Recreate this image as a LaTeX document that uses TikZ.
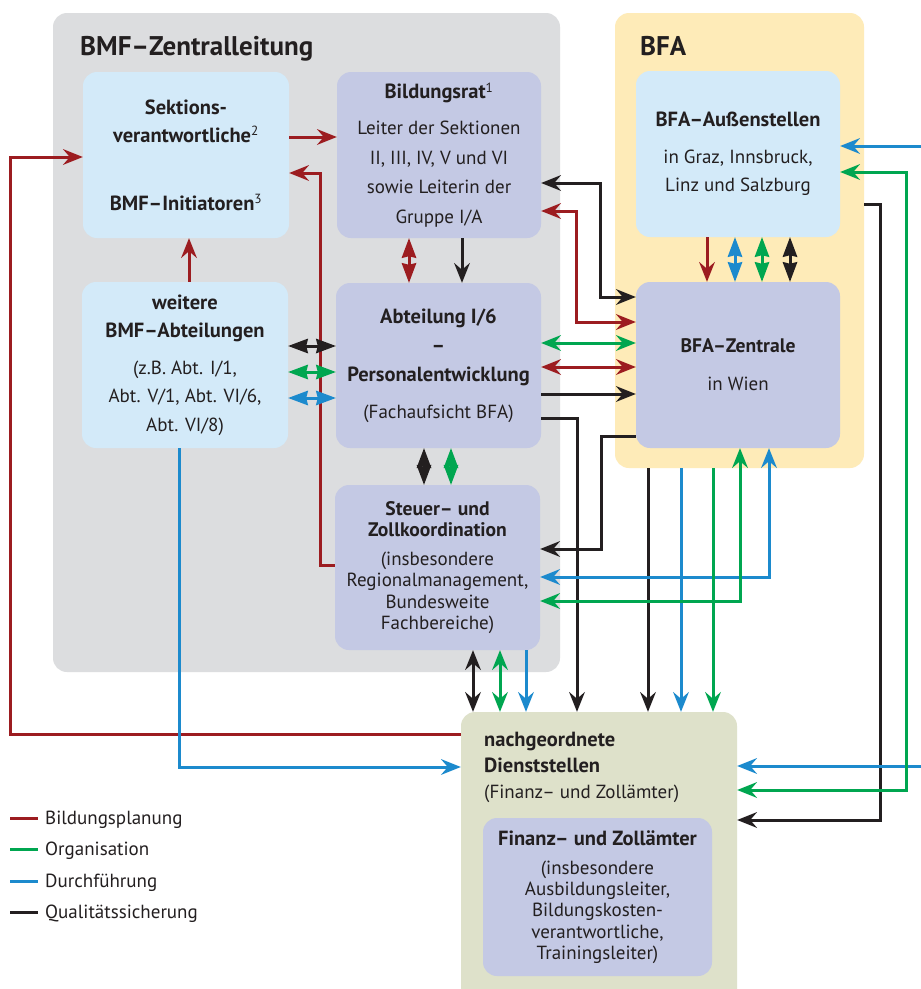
\documentclass[tikz,border=0pt]{standalone}
\usepackage{fontspec}
\setmainfont{PT Sans}
\usetikzlibrary{arrows.meta}
\definecolor{cRed}{HTML}{9C1C20}
\definecolor{cGreen}{HTML}{00A650}
\definecolor{cBlue}{HTML}{1C8ACD}
\definecolor{cBlack}{HTML}{231F20}
\definecolor{cText}{HTML}{231F20}
\definecolor{cGray}{HTML}{DCDDDF}
\definecolor{cYellow}{HTML}{FEEBB8}
\definecolor{cLBlue}{HTML}{D3EAF9}
\definecolor{cLav}{HTML}{C4C9E4}
\definecolor{cOlive}{HTML}{DEE1CA}
\newcommand{\bt}[2][20.5]{{\fontsize{#1}{29}\selectfont\bfseries #2}}
\newcommand{\supr}[1]{\textsuperscript{\mdseries #1}}
\begin{document}
\begin{tikzpicture}[x=1pt,y=-1pt,
  every node/.style={text=cText},
  panel/.style={rounded corners=14pt, inner sep=0pt},
  box/.style={rounded corners=14pt, inner sep=0pt, align=center},
  ttl/.style={font=\fontsize{27}{30}\selectfont\bfseries, inner sep=0pt, anchor=base west},
  ln/.style={line width=3pt, line join=miter},
  rl/.style={ln, draw=cRed},
  gl/.style={ln, draw=cGreen},
  bl/.style={ln, draw=cBlue},
  kl/.style={ln, draw=cBlack},
  >={Stealth[length=20pt,width=16pt,inset=7pt,line width=0pt]},
  dbl/.style={arrows={Stealth[length=20pt,width=15pt,inset=2pt,line width=0pt]-Stealth[length=20pt,width=15pt,inset=2pt,line width=0pt]}},
  lgt/.style={font=\fontsize{19}{22}\selectfont, inner sep=0pt, anchor=base west}
  ]
\useasboundingbox (0,0) rectangle (921,989);
\fill[white] (0,0) rectangle (921,989);

% panels
\node[panel, fill=cGray, minimum width=507pt, minimum height=659pt] (bmf) at (306.5,342.5) {};
\node[panel, fill=cYellow, minimum width=249pt, minimum height=455pt] (bfa) at (739.5,240.5) {};
\node[ttl] (bmfT) at (80,55) {BMF–Zentralleitung};
\node[ttl] (bfaT) at (640,55) {BFA};

% boxes
\node[box, fill=cLBlue, minimum width=206pt, minimum height=166pt,
  font=\fontsize{19}{28}\selectfont] (sek) at (186,155)
  {\bt{Sektions-}\\\bt{verantwortliche}\supr{2}\\[40pt]\bt{BMF–Initiatoren}\supr{3}};
\node[box, fill=cLav, minimum width=204pt, minimum height=166pt,
  font=\fontsize{19}{29.5}\selectfont] (bild) at (439,155)
  {\bt{Bildungsrat}\textsuperscript{1}\\[7pt]Leiter der Sektionen\\II, III, IV, V und VI\\sowie Leiterin der\\Gruppe I/A};
\node[box, fill=cLBlue, minimum width=206pt, minimum height=166pt,
  font=\fontsize{19}{28.5}\selectfont] (weit) at (185,365)
  {\bt{weitere}\\\bt{BMF–Abteilungen}\\[8pt](z.B. Abt. I/1,\\Abt. V/1, Abt. VI/6,\\Abt. VI/8)};
\node[box, fill=cLav, minimum width=205pt, minimum height=165pt,
  font=\fontsize{19}{29}\selectfont] (abt) at (438.5,365.5)
  {\bt{Abteilung I/6}\\\bt{–}\\\bt{Personalentwicklung}\\[8pt](Fachaufsicht BFA)};
\node[box, fill=cLav, minimum width=205pt, minimum height=165pt,
  font=\fontsize{19}{21.5}\selectfont] (steu) at (437.5,567.5)
  {\bt[19.6]{Steuer– und}\\\bt[19.6]{Zollkoordination}\\[7pt](insbesondere\\Regionalmanagement,\\Bundesweite\\Fachbereiche)};
\node[box, fill=cLBlue, minimum width=204pt, minimum height=166pt,
  font=\fontsize{19}{28}\selectfont] (auss) at (738,154)
  {\bt{BFA–Außenstellen}\\[9pt]in Graz, Innsbruck,\\Linz und Salzburg};
\node[box, fill=cLav, minimum width=204pt, minimum height=166pt,
  font=\fontsize{19}{28}\selectfont] (zent) at (738,365)
  {\bt[19.6]{BFA–Zentrale}\\[10pt]in Wien};
\node[panel, fill=cOlive, minimum width=276pt, minimum height=293pt] (nach) at (599,858.5) {};
\node[inner sep=0pt, anchor=base west, align=left,
  font=\fontsize{19}{26}\selectfont] (nachT) at (484,798)
  {\bt{nachgeordnete}\\\bt{Dienststellen}\\(Finanz– und Zollämter)};
\node[box, fill=cLav, minimum width=229pt, minimum height=158pt,
  font=\fontsize{19}{21.3}\selectfont] (fin) at (597.5,897)
  {\bt{Finanz– und Zollämter}\\[8pt](insbesondere\\Ausbildungsleiter,\\Bildungskosten-\\verantwortliche,\\Trainingsleiter)};

% free ends at the right edge
\coordinate (eB1) at (921,146);
\coordinate (eB2) at (921,766);

% ---------- red: Bildungsplanung
\draw[rl,->] (sek.east |- 0,137) -- (bild.west |- 0,137);
\draw[rl,->] (nach.west |- 0,734) -| (10,157) -- (sek.west |- 0,157);
\draw[rl,->] (steu.west |- 0,565) -| (320,173) -- (sek.east |- 0,173);
\draw[rl,->] (weit.north -| 189,0) -- (sek.south -| 189,0);
\draw[rl,dbl] (bild.south -| 409,0) -- (abt.north -| 409,0);
\draw[rl,<->] (bild.east |- 0,211) -| (576,322) -- (zent.west |- 0,322);
\draw[rl,<->] (abt.east |- 0,367) -- (zent.west |- 0,367);
\draw[rl,->] (auss.south -| 707,0) -- (zent.north -| 707,0);

% ---------- black: Qualitaetssicherung
\draw[kl,->] (bild.south -| 462,0) -- (abt.north -| 462,0);
\draw[kl,<->] (bild.east |- 0,183) -| (600,297) -- (zent.west |- 0,297);
\draw[kl,dbl] (weit.east |- 0,346) -- (abt.west |- 0,346);
\draw[kl,->] (abt.east |- 0,394) -- (zent.west |- 0,394);
\draw[kl,->] (abt.east |- 0,418) -| (nach.north -| 577,0);
\draw[kl,->] (zent.west |- 0,436) -| (601,549) -- (steu.east |- 0,549);
\draw[kl,dbl] (abt.south -| 424,0) -- (steu.north -| 424,0);
\draw[kl,<->] (steu.south -| 473,0) -- (nach.north -| 473,0);
\draw[kl,->] (bfa.south -| 648,0) -- (nach.north -| 648,0);
\draw[kl,dbl] (auss.south -| 790,0) -- (zent.north -| 790,0);
\draw[kl,->] (bfa.east |- 0,204) -| (880,820) -- (nach.east |- 0,820);

% ---------- blue: Durchfuehrung
\draw[bl,dbl] (weit.east |- 0,398) -- (abt.west |- 0,398);
\draw[bl,->] (weit.south -| 179,0) |- (nach.west |- 0,767);
\draw[bl,dbl] (auss.south -| 735,0) -- (zent.north -| 735,0);
\draw[bl,->] (bfa.south -| 681,0) -- (nach.north -| 681,0);
\draw[bl,<->] (zent.south -| 769,0) |- (steu.east |- 0,577);
\draw[bl,->] (steu.south -| 526,0) -- (nach.north -| 526,0);
\draw[bl,->] (eB1) -- (auss.east |- 0,146);
\draw[bl,->] (eB2) -- (nach.east |- 0,766);

% ---------- green: Organisation
\draw[gl,dbl] (weit.east |- 0,372) -- (abt.west |- 0,372);
\draw[gl,<->] (abt.east |- 0,343) -- (zent.west |- 0,343);
\draw[gl,dbl] (abt.south -| 451,0) -- (steu.north -| 451,0);
\draw[gl,<->] (steu.south -| 500,0) -- (nach.north -| 500,0);
\draw[gl,dbl] (auss.south -| 762,0) -- (zent.north -| 762,0);
\draw[gl,->] (bfa.south -| 713,0) -- (nach.north -| 713,0);
\draw[gl,<->] (zent.south -| 740,0) |- (steu.east |- 0,601);
\draw[gl,<->] (auss.east |- 0,172) -| (906,790) -- (nach.east |- 0,790);

% ---------- legend
\node[lgt] (lg1) at (45,824) {Bildungsplanung};
\node[lgt] (lg2) at (45,855) {Organisation};
\node[lgt] (lg3) at (45,887) {Durchführung};
\node[lgt] (lg4) at (45,918) {Qualitätssicherung};
\draw[rl] (10,818) -- (38,818);
\draw[gl] (10,849) -- (38,849);
\draw[bl] (10,881) -- (38,881);
\draw[kl] (10,912) -- (38,912);
\end{tikzpicture}
\end{document}
